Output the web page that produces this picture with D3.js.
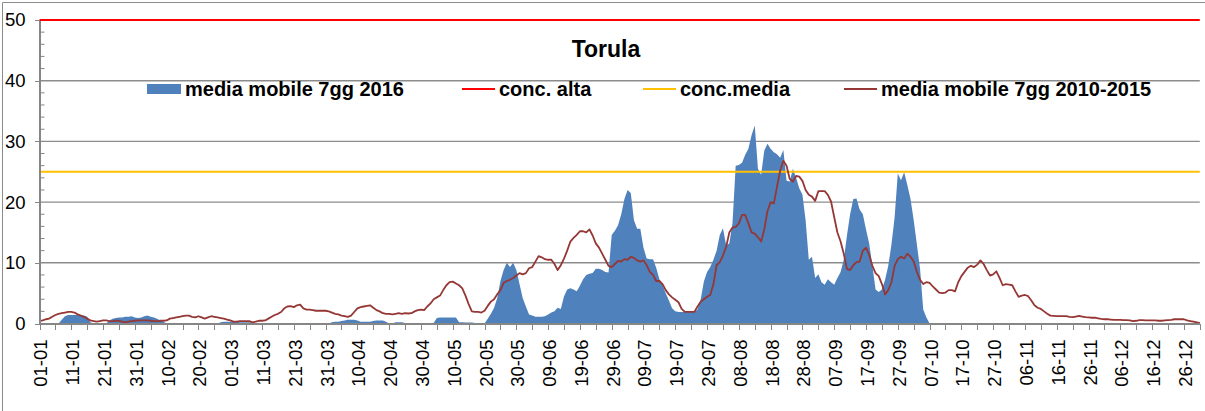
<!DOCTYPE html>
<html lang="it">
<head>
<meta charset="UTF-8">
<title>Torula</title>
<script src="https://d3js.org/d3.v7.min.js"></script>
<style>
    *{ margin: 0; padding: 0; }
    body{ background: #fff; }
    text{ font-family: "Liberation Sans", Arial, sans-serif; }
    .axis path, .axis line{ stroke: #868686; shape-rendering: crispEdges; }
    .axis text{ fill: #000; font-size: 18.5px; }
</style>
</head>
<body>
<div id="chart"></div>
<script>
// etichette asse x (ogni 10 giorni, anno 2016 bisestile)
var tickLabels = ["01-01","11-01","21-01","31-01","10-02","20-02","01-03","11-03","21-03","31-03",
    "10-04","20-04","30-04","10-05","20-05","30-05","09-06","19-06","29-06","09-07","19-07","29-07",
    "08-08","18-08","28-08","07-09","17-09","27-09","07-10","17-10","27-10","06-11","16-11","26-11",
    "06-12","16-12","26-12"];
var nDays = 366;
var yTicks = [0, 10, 20, 30, 40, 50];

var concAlta = 50;
var concMedia = 25;

// media mobile 7gg 2016 (giorno 0 = 01-01)
var mm2016 = [
 0,0,0,0,0,0,0,0.6,1.2,1.4, 1.4,1.4,1.4,1.3,1.3,1.1,0.2,0,0,0,
 0,0,0.5,0.8,0.9,1.0,1.0,1.1,1.1,1.2, 1.0,0.9,1.0,1.2,1.3,1.1,1.0,0.8,0.5,0.3,
 0,0,0,0,0,0,0,0,0,0, 0,0,0,0,0,0,0,0.2,0.3,0.3,
 0.3,0.3,0.3,0.2,0.2,0.2,0.2,0.1,0,0, 0,0,0,0,0,0,0,0,0,0,
 0,0,0,0,0,0,0,0,0,0, 0,0,0.2,0.3,0.3,0.4,0.5,0.6,0.6,0.6,
 0.5,0.3,0.3,0.3,0.3,0.4,0.5,0.5,0.5,0.3, 0,0,0.2,0.2,0.2,0.1,0,0,0,0,
 0,0,0,0,0.1,0.9,1.0,1.0,1.0,1.0, 1.0,1.0,0.2,0.2,0.15,0.15,0.15,0.1,0,0,
 0,0.8,1.6,2.6,4.2,7.0,8.8,10.0,9.3,10.0, 8.8,6.5,4.2,2.8,1.5,1.3,1.1,1.1,1.1,1.2,
 1.5,1.8,2.0,2.6,2.4,4.5,5.6,5.8,5.6,5.3, 6.2,7.3,8.0,8.2,8.3,9.0,9.0,8.8,8.5,8.4,
 14.6,15.3,16.2,18.0,20.5,22.0,21.5,17.0,15.6,15.6, 12.5,10.7,10.6,10.6,9.2,7.3,6.3,5.0,3.8,2.5,
 2.0,1.9,1.9,1.9,1.9,1.9,1.9,2.3,4.0,6.9, 8.5,9.3,10.5,12.0,14.6,15.7,12.9,13.2,16.5,26.0,
 26.1,26.5,27.8,28.8,31.0,32.6,25.5,24.5,28.5,29.6, 28.8,28.2,27.9,27.3,28.6,23.5,23.4,25.5,24.0,22.3,
 21.2,17.0,10.5,11.0,7.5,8.1,6.8,6.4,7.3,6.8, 6.4,7.5,8.5,10.5,14.5,18.0,20.5,20.6,18.8,18.0,
 15.5,13.2,9.5,5.6,5.2,5.6,7.2,9.5,13.0,17.5, 24.7,23.6,24.9,22.8,20.5,17.0,13.0,9.0,2.3,1.0,
 0
];

// media mobile 7gg 2010-2015
var mm1015 = [
 0.4,0.5,0.7,0.8,1.1,1.4,1.6,1.7,1.8,1.9, 1.9,1.8,1.5,1.3,1.1,0.8,0.5,0.4,0.3,0.4,
 0.5,0.5,0.4,0.4,0.45,0.45,0.3,0.2,0.3,0.4, 0.45,0.5,0.5,0.5,0.5,0.45,0.4,0.4,0.45,0.45,
 0.5,0.8,0.9,1.0,1.1,1.2,1.3,1.3,1.1,1.0, 1.2,1.0,0.8,1.0,1.2,1.1,1.0,0.9,0.8,0.65,
 0.5,0.3,0.3,0.4,0.4,0.4,0.4,0.2,0.3,0.45, 0.45,0.5,0.8,1.1,1.4,1.6,1.9,2.5,2.8,2.85,
 2.7,3.0,3.1,2.5,2.3,2.3,2.2,2.1,2.1,2.1, 2.1,2.0,1.8,1.6,1.5,1.3,1.2,1.1,1.3,1.9,
 2.5,2.7,2.8,2.9,3.0,2.6,2.2,2.0,1.7,1.6, 1.6,1.5,1.6,1.7,1.6,1.7,1.65,1.7,2.0,2.2,
 2.3,2.2,2.8,3.3,4.0,4.3,4.6,5.5,6.3,6.8, 6.9,6.6,6.3,5.8,4.6,3.2,2.0,1.9,1.9,1.8,
 2.1,2.9,3.6,4.0,4.8,5.5,6.7,7.0,7.2,7.5, 7.9,8.3,8.1,8.3,9.1,9.3,10.2,11.1,10.9,10.6,
 10.5,10.5,9.8,8.8,9.6,10.7,12.0,13.5,14.1,14.6, 15.2,15.2,15.0,15.5,14.5,13.2,12.5,11.5,10.5,9.5,
 9.3,9.8,10.3,10.2,10.6,10.5,11.0,10.8,10.4,10.2, 10.4,9.6,8.5,8.0,7.0,7.0,6.5,5.5,4.8,4.3,
 3.9,3.5,2.4,1.9,1.9,1.9,1.9,2.8,3.6,4.0, 4.4,4.7,6.5,9.6,10.1,11.2,12.6,15.0,15.8,15.9,
 16.5,17.9,17.9,16.5,15.0,14.8,14.2,13.5,15.5,18.5, 20.0,19.8,22.5,25.2,26.8,26.0,23.8,23.4,24.3,24.2,
 23.5,22.0,21.2,20.9,20.2,21.8,21.8,21.8,21.2,20.1, 17.5,15.0,13.5,11.5,9.0,8.8,9.6,10.1,10.2,12.0,
 12.5,11.3,9.5,8.3,7.8,6.5,4.8,5.5,6.8,9.5, 10.6,11.0,10.7,11.5,11.0,10.2,8.5,7.2,6.5,6.8,
 6.7,6.1,5.6,5.1,5.0,5.1,5.5,5.5,5.3,6.8, 7.8,8.5,9.2,9.5,9.3,9.7,10.4,9.8,8.8,7.9,
 8.1,8.6,7.5,6.3,6.5,6.4,6.3,5.3,4.4,4.6, 4.7,4.5,3.8,3.0,2.6,2.4,2.0,1.6,1.3,1.25,
 1.2,1.2,1.2,1.2,1.1,1.05,1.15,1.25,1.15,1.05, 1.0,0.95,0.95,0.85,0.75,0.7,0.7,0.65,0.6,0.6,
 0.6,0.55,0.55,0.5,0.4,0.45,0.55,0.55,0.5,0.5, 0.5,0.5,0.45,0.45,0.5,0.55,0.6,0.7,0.7,0.7,
 0.7,0.5,0.4,0.3,0.2,0.1
];

var width = 1205, height = 411;
var plot = {left: 39.5, right: 1199.8, top: 20, bottom: 323.5};

var svg = d3.select("#chart").append("svg")
    .attr("width", width).attr("height", height);

// cornice esterna
svg.append("path")
    .attr("d", "M2.5," + height + "V2.5H" + width)
    .attr("fill", "none").attr("stroke", "#8c8c8c").attr("stroke-width", 1);

var xScale = d3.scaleLinear().domain([0, nDays - 1]).range([plot.left, plot.right]);
var yScale = d3.scaleLinear().domain([0, 50]).range([plot.bottom, plot.top]);

// griglia
svg.append("g").selectAll("line")
    .data(yTicks.slice(1, 5))
    .enter().append("line")
    .attr("x1", plot.left).attr("x2", plot.right)
    .attr("y1", function(d){ return yScale(d); })
    .attr("y2", function(d){ return yScale(d); })
    .attr("stroke", "#8c8c8c").attr("stroke-width", 1.4);

// area 2016
var area = d3.area()
    .x(function(d, i){ return xScale(i); })
    .y0(yScale(0))
    .y1(function(d){ return yScale(d); });
svg.append("path")
    .attr("d", area(mm2016))
    .attr("fill", "#4f81bd");

// soglie
function hline(v, color){
    svg.append("line")
        .attr("x1", plot.left).attr("x2", plot.right)
        .attr("y1", yScale(v)).attr("y2", yScale(v))
        .attr("stroke", color).attr("stroke-width", 2);
}
hline(concMedia, "#ffc000");

// linea 2010-2015
var line = d3.line()
    .x(function(d, i){ return xScale(i); })
    .y(function(d){ return yScale(d); });
svg.append("path")
    .attr("d", line(mm1015))
    .attr("fill", "none")
    .attr("stroke", "#953735")
    .attr("stroke-width", 1.8)
    .attr("stroke-linejoin", "round");

hline(concAlta, "#ff0000");

// asse y
var yAxis = d3.axisLeft(yScale).tickValues(yTicks).tickSizeInner(5).tickSizeOuter(0).tickPadding(9);
svg.append("g").attr("class", "axis")
    .attr("transform", "translate(" + plot.left + ",0)")
    .call(yAxis)
    .call(function(g){ g.select(".domain").attr("stroke-width", 1.5); });
// tacche secondarie y (interne)
svg.append("g").selectAll("line")
    .data(d3.range(0, 51, 2).filter(function(v){ return v % 10 !== 0; }))
    .enter().append("line")
    .attr("x1", plot.left).attr("x2", plot.left + 5)
    .attr("y1", function(d){ return yScale(d); })
    .attr("y2", function(d){ return yScale(d); })
    .attr("stroke", "#868686").attr("stroke-width", 1);

// asse x
var xTickVals = d3.range(0, nDays, 5);
var xAxis = d3.axisBottom(xScale).tickValues(xTickVals).tickSizeInner(6).tickSizeOuter(0)
    .tickFormat(function(d){ return d % 10 === 0 ? tickLabels[d / 10] : ""; });
var gx = svg.append("g").attr("class", "axis")
    .attr("transform", "translate(0," + plot.bottom + ")")
    .call(xAxis);
gx.select(".domain").attr("stroke-width", 1.5);
gx.selectAll("text")
    .attr("transform", "rotate(-90)")
    .attr("text-anchor", "end")
    .attr("x", -16)
    .attr("y", 1)
    .attr("dy", "0.35em");

// titolo
svg.append("text")
    .attr("x", 606).attr("y", 57)
    .attr("text-anchor", "middle")
    .attr("font-size", "23px").attr("font-weight", "bold")
    .text("Torula");

// legenda
var legend = [
    {name: "media mobile 7gg 2016", type: "area", color: "#4f81bd", x: 147},
    {name: "conc. alta", type: "line", color: "#ff0000", x: 462},
    {name: "conc.media", type: "line", color: "#ffc000", x: 643},
    {name: "media mobile 7gg 2010-2015", type: "line", color: "#953735", x: 844}
];
var lg = svg.append("g").selectAll("g").data(legend).enter().append("g")
    .attr("transform", function(d){ return "translate(" + d.x + ",89)"; });
lg.filter(function(d){ return d.type === "area"; }).append("rect")
    .attr("x", 0).attr("y", -5).attr("width", 34).attr("height", 10)
    .attr("fill", function(d){ return d.color; });
lg.filter(function(d){ return d.type === "line"; }).append("line")
    .attr("x1", 0).attr("x2", 33).attr("y1", 0).attr("y2", 0)
    .attr("stroke", function(d){ return d.color; }).attr("stroke-width", 2);
lg.append("text")
    .attr("x", function(d){ return d.type === "area" ? 38 : 37; })
    .attr("y", 0).attr("dy", "0.35em")
    .attr("font-size", "20px").attr("font-weight", "bold")
    .text(function(d){ return d.name; });
</script>
</body>
</html>
